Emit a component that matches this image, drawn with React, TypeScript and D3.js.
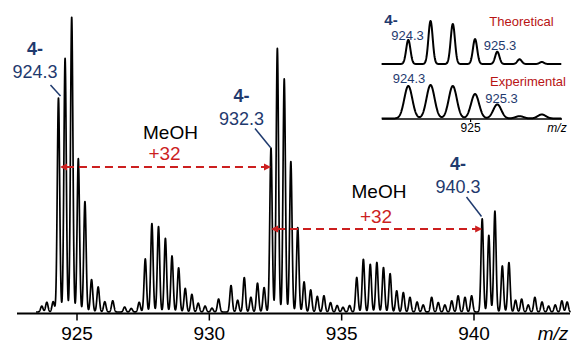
import React from "react";
import * as d3 from "d3";

// Main spectrum: peak centroids (m/z) and relative intensities (%)
const mainMz = [923.67, 923.86, 924.1, 924.3, 924.55, 924.8, 925.05, 925.3, 925.55, 925.8, 926.05, 926.35, 926.8, 927.05, 927.35,
  927.58, 927.83, 928.08, 928.34, 928.59, 928.84, 929.09, 929.34, 929.58, 929.84, 930.1, 930.35, 930.82, 931.07, 931.32, 931.57, 931.82, 932.07,
  932.33, 932.57, 932.83, 933.08, 933.34, 933.58, 933.83, 934.08, 934.33, 934.58, 934.83, 935.05, 935.3,
  935.57, 935.82, 936.08, 936.33, 936.58, 936.83, 937.08, 937.33, 937.58, 937.85, 938.08, 938.4, 938.65, 938.9, 939.16, 939.4, 939.66, 939.91,
  940.31, 940.56, 940.79, 941.07, 941.32, 941.57, 941.8, 942.05, 942.3, 942.57, 942.82, 943.07, 943.32, 943.52];
const mainInt = [2, 3.3, 3.5, 72.6, 86, 100, 52, 37.5, 11, 8.5, 3.5, 3.8, 1.7, 1.2, 3.3,
  18, 30, 29, 25, 19, 15, 8, 6, 3, 2, 1.3, 4.4, 9, 4, 11.7, 5, 9.8, 8.3,
  55.6, 89.4, 79, 51, 28.6, 10.2, 7.5, 5.3, 5.5, 3.2, 2.2, 1.6, 2.2,
  11.7, 17.9, 16.2, 16.8, 15.1, 13, 7.2, 6.6, 5, 3.4, 2.4, 5, 3.2, 2.4, 3.8, 5.5, 5, 5.5,
  31.6, 26, 34.2, 15.6, 16.8, 4, 4.4, 2.4, 5, 3.4, 2, 2.4, 3.8, 3.4];

// Inset: 4- isotope pattern
const insetMz = [924.3, 924.55, 924.8, 925.05, 925.3, 925.55, 925.8];
const theoInt = [56, 100, 93, 58, 28.6, 11, 4.7];
const expInt = [97, 100, 97, 73, 42, 7, 12];

const mainTicks = [925, 930, 935, 940];
const insetTicks = [925];

const NAVY = "#1f3a6e";
const RED = "#cc1f1f";
const DARKRED = "#b81414";
const FONT = "'Liberation Sans', Arial, sans-serif";

function profile(mz: number[], inten: number[], sigma: number, lo: number, hi: number, step: number) {
  const pts: [number, number][] = [];
  for (const m of d3.range(lo, hi + step / 2, step)) {
    let s = 0;
    for (let i = 0; i < mz.length; i++) {
      const d = m - mz[i];
      if (Math.abs(d) < sigma * 6) s += inten[i] * Math.exp(-(d * d) / (2 * sigma * sigma));
    }
    pts.push([m, s]);
  }
  return pts;
}

export default function App() {
  const x = d3.scaleLinear().domain([925, 940]).range([77, 474]);
  const y = d3.scaleLinear().domain([0, 100]).range([312, 17]);
  const mainPts = profile(mainMz, mainInt, 0.045, 923.45, 943.65, 0.004);
  const mainLine = d3.line<[number, number]>().x((d) => x(d[0])).y((d) => y(d[1]));

  const xi = d3.scaleLinear().domain([924.3, 925.3]).range([408.3, 497.3]);
  const yt = d3.scaleLinear().domain([0, 100]).range([64, 21]);
  const ye = d3.scaleLinear().domain([0, 100]).range([118.5, 85]);
  const theoPts = profile(insetMz, theoInt, 0.024, 924.0, 926.02, 0.003);
  const expPts = profile(insetMz, expInt, 0.045, 924.0, 926.02, 0.003);
  const theoLine = d3.line<[number, number]>().x((d) => xi(d[0])).y((d) => yt(d[1]));
  const expLine = d3.line<[number, number]>().x((d) => xi(d[0])).y((d) => ye(d[1]));

  const arrow = (x1: number, x2: number, yy: number) => (
    <g>
      <line x1={x1 + 6} x2={x2 - 6} y1={yy} y2={yy} stroke={RED} strokeWidth={2} strokeDasharray="8,5" />
      <path d={`M${x1},${yy} L${x1 + 7},${yy - 3.5} L${x1 + 7},${yy + 3.5} Z`} fill={RED} />
      <path d={`M${x2},${yy} L${x2 - 7},${yy - 3.5} L${x2 - 7},${yy + 3.5} Z`} fill={RED} />
    </g>
  );

  return (
    <svg width={571} height={343} style={{ position: "absolute", left: 0, top: 0, background: "#fff" }} fontFamily={FONT}>
      {/* main spectrum */}
      <path d={mainLine(mainPts) || ""} fill="none" stroke="#000" strokeWidth={1.7} strokeLinejoin="round" />
      {/* axis */}
      <line x1={17} x2={570} y1={313.5} y2={313.5} stroke="#000" strokeWidth={2} />
      {mainTicks.map((t) => (
        <g key={t}>
          <line x1={x(t)} x2={x(t)} y1={313.5} y2={320.5} stroke="#000" strokeWidth={1.5} />
          <text x={x(t)} y={340} textAnchor="middle" fontSize={19} fill="#000">{t}</text>
        </g>
      ))}
      <text x={553} y={340} textAnchor="middle" fontSize={19} fontStyle="italic" fill="#000">m/z</text>

      {/* annotations */}
      <text x={35} y={55} textAnchor="middle" fontSize={18} fontWeight="bold" fill={NAVY}>4-</text>
      <text x={35} y={78} textAnchor="middle" fontSize={18} fill={NAVY}>924.3</text>
      <line x1={50.5} y1={85} x2={60.5} y2={96} stroke={NAVY} strokeWidth={1.5} />

      <text x={241.5} y={102} textAnchor="middle" fontSize={18} fontWeight="bold" fill={NAVY}>4-</text>
      <text x={241.5} y={125} textAnchor="middle" fontSize={18} fill={NAVY}>932.3</text>
      <line x1={255} y1={128.5} x2={270.5} y2={147.5} stroke={NAVY} strokeWidth={1.5} />

      <text x={458} y={170} textAnchor="middle" fontSize={18} fontWeight="bold" fill={NAVY}>4-</text>
      <text x={458} y={193} textAnchor="middle" fontSize={18} fill={NAVY}>940.3</text>
      <line x1={466.5} y1={197} x2={481.5} y2={216.5} stroke={NAVY} strokeWidth={1.5} />

      <text x={170.5} y={139} textAnchor="middle" fontSize={19} fill="#000">MeOH</text>
      <text x={164.5} y={160} textAnchor="middle" fontSize={19} fill={RED}>+32</text>
      {arrow(x(924.3) + 1.5, x(932.33), 167)}

      <text x={379} y={198} textAnchor="middle" fontSize={19} fill="#000">MeOH</text>
      <text x={376} y={223} textAnchor="middle" fontSize={19} fill={RED}>+32</text>
      {arrow(x(932.33), x(940.31), 229)}

      {/* inset */}
      <path d={theoLine(theoPts) || ""} fill="none" stroke="#000" strokeWidth={2} strokeLinejoin="round" />
      <path d={expLine(expPts) || ""} fill="none" stroke="#000" strokeWidth={2} strokeLinejoin="round" />
      <line x1={382} x2={562} y1={119} y2={119} stroke="#000" strokeWidth={1.5} />
      {insetTicks.map((t) => (
        <g key={t}>
          <line x1={xi(t)} x2={xi(t)} y1={119} y2={122} stroke="#000" strokeWidth={1.2} />
          <text x={xi(t)} y={132} textAnchor="middle" fontSize={12} fill="#000">{t}</text>
        </g>
      ))}
      <text x={557} y={132} textAnchor="middle" fontSize={12} fontStyle="italic" fill="#000">m/z</text>
      <text x={391} y={25} textAnchor="middle" fontSize={15} fontWeight="bold" fill={NAVY}>4-</text>
      <text x={407.5} y={40} textAnchor="middle" fontSize={13} fill={NAVY}>924.3</text>
      <text x={500} y={50} textAnchor="middle" fontSize={13} fill={NAVY}>925.3</text>
      <text x={521.5} y={26} textAnchor="middle" fontSize={13} fill={DARKRED}>Theoretical</text>
      <text x={409} y={83} textAnchor="middle" fontSize={13} fill={NAVY}>924.3</text>
      <text x={501.5} y={103} textAnchor="middle" fontSize={13} fill={NAVY}>925.3</text>
      <text x={528} y={86} textAnchor="middle" fontSize={13} fill={DARKRED}>Experimental</text>
    </svg>
  );
}
